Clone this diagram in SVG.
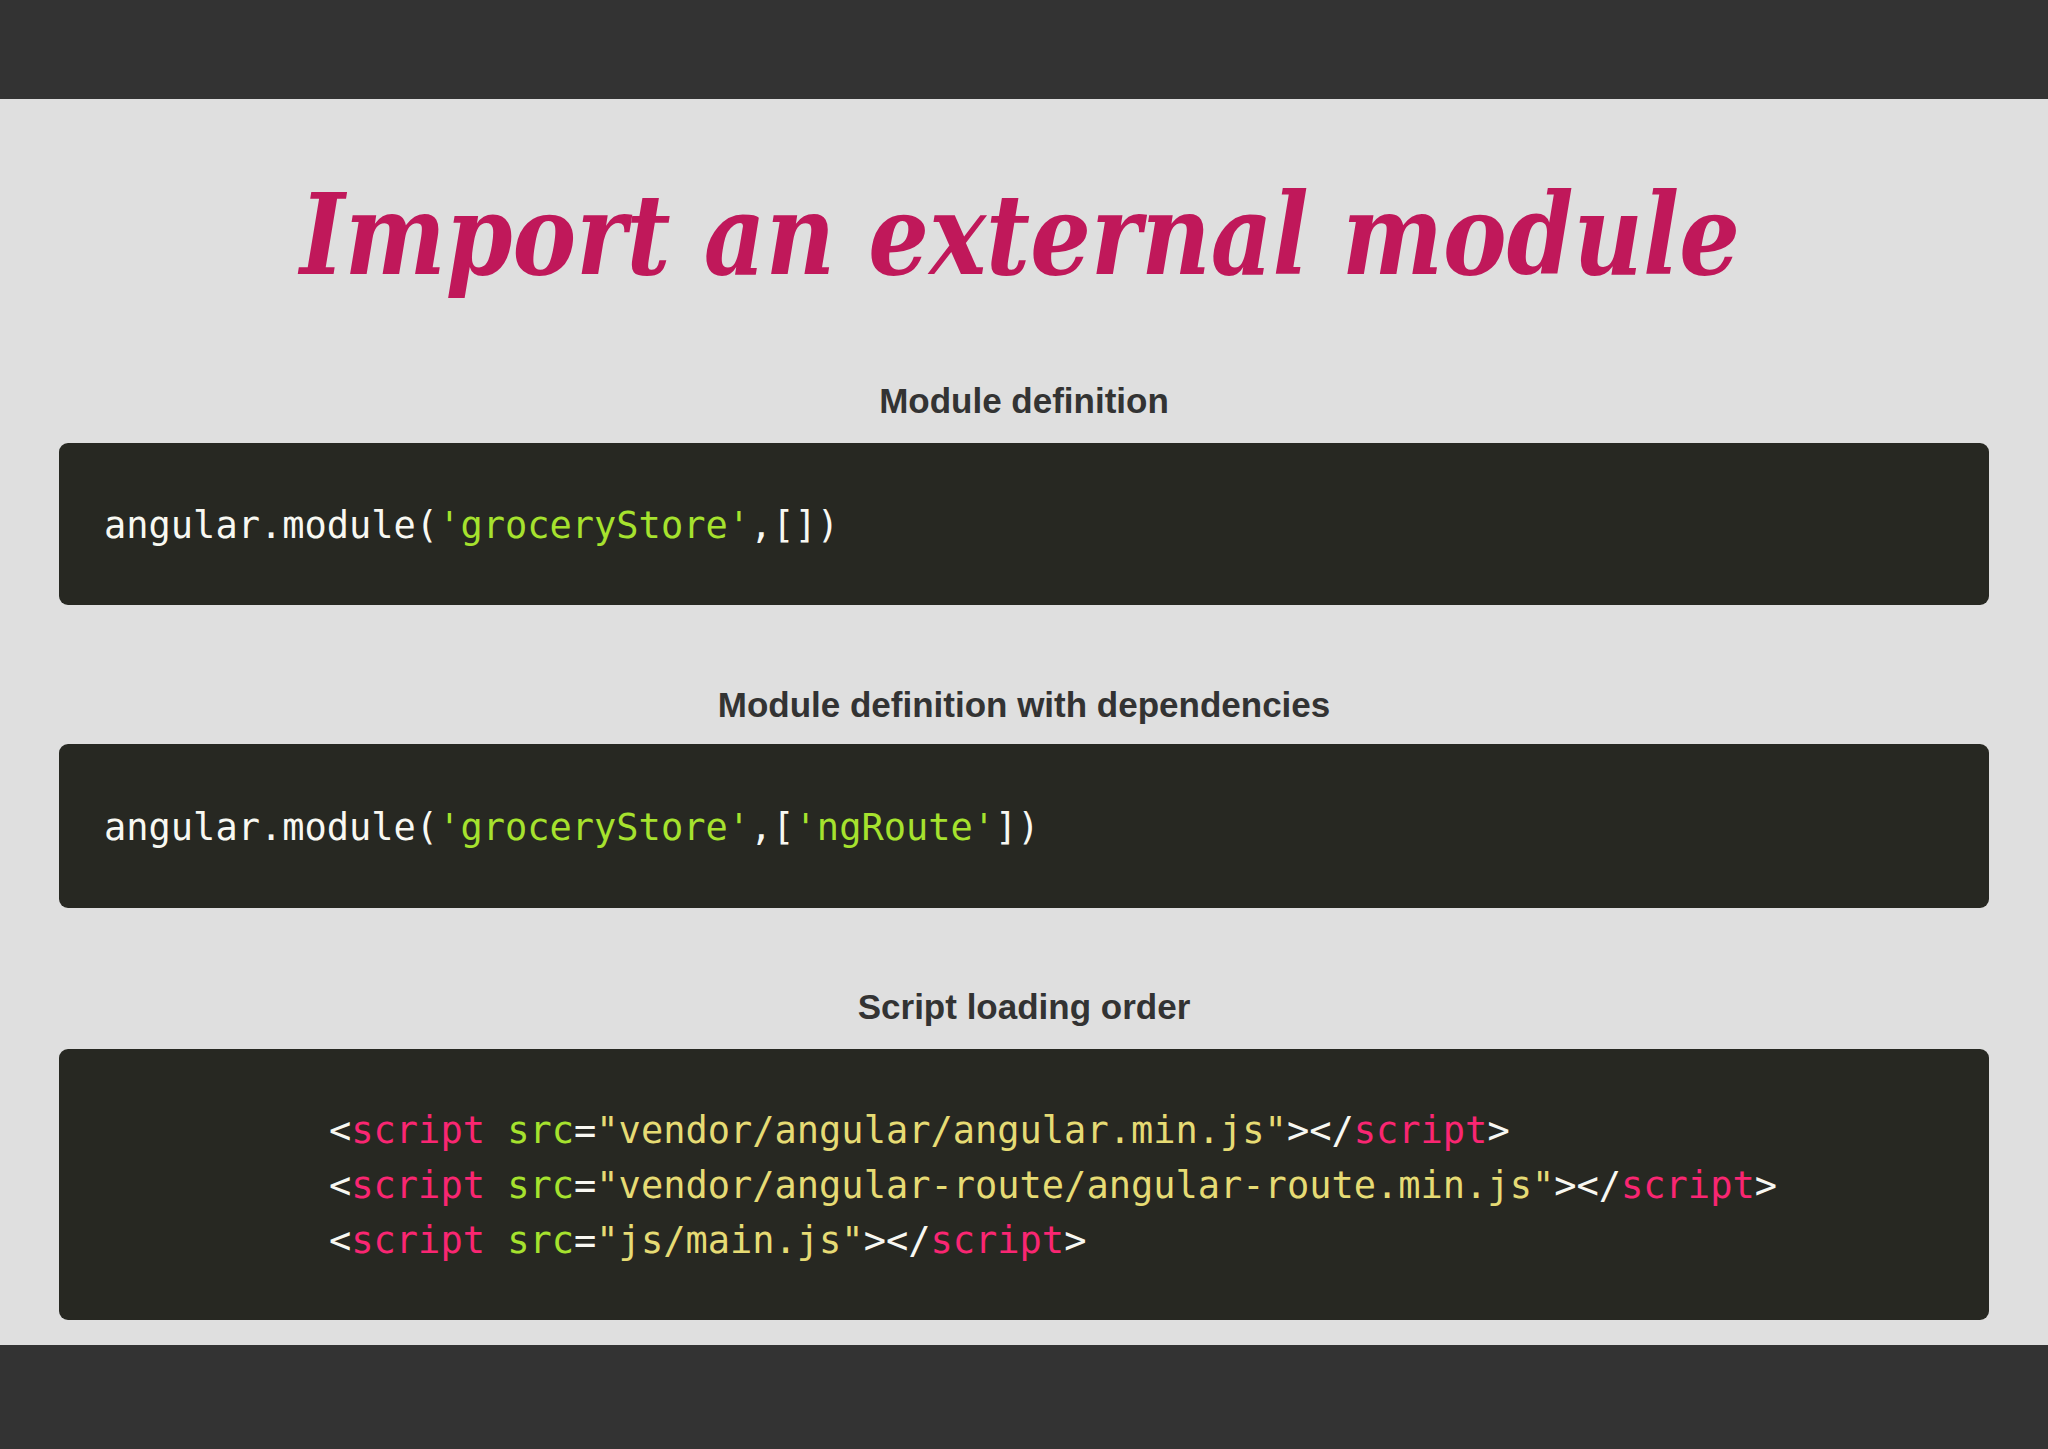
<svg xmlns="http://www.w3.org/2000/svg" width="2048" height="1449" viewBox="0 0 2048 1449">
<style>
.h{font-family:"Liberation Sans",Arial,sans-serif;font-weight:bold;font-size:35px;fill:#333;text-anchor:middle}
.c{font-family:"DejaVu Sans Mono",monospace;font-size:37px;fill:#f8f8f2}
.g{fill:#a6e22e}.p{fill:#f92672}.y{fill:#e6db74}
.box{fill:#272822}
</style>
<rect width="2048" height="1449" fill="#dfdfdf"/>
<rect width="2048" height="99" fill="#333"/>
<rect y="1345" width="2048" height="104" fill="#333"/>
<g id="title"><text x="1020" y="274" text-anchor="middle" font-family="'DejaVu Serif',serif" font-style="italic" font-weight="bold" font-size="112" fill="#c0185a" textLength="1440" lengthAdjust="spacingAndGlyphs">Import an external module</text></g>
<g id="sec1">
<text class="h" x="1024" y="413">Module definition</text>
<rect class="box" x="59" y="443" width="1930" height="162" rx="9"/>
<text class="c" x="104" y="538">angular.module(<tspan class="g">'groceryStore'</tspan>,[])</text>
</g>
<g id="sec2">
<text class="h" x="1024" y="717">Module definition with dependencies</text>
<rect class="box" x="59" y="744" width="1930" height="164" rx="9"/>
<text class="c" x="104" y="840">angular.module(<tspan class="g">'groceryStore'</tspan>,[<tspan class="g">'ngRoute'</tspan>])</text>
</g>
<g id="sec3">
<text class="h" x="1024" y="1019">Script loading order</text>
<rect class="box" x="59" y="1049" width="1930" height="271" rx="9"/>
<text class="c" x="329" y="1143">&lt;<tspan class="p">script</tspan> <tspan class="g">src</tspan>=<tspan class="y">"vendor/angular/angular.min.js"</tspan>&gt;&lt;/<tspan class="p">script</tspan>&gt;</text>
<text class="c" x="329" y="1198">&lt;<tspan class="p">script</tspan> <tspan class="g">src</tspan>=<tspan class="y">"vendor/angular-route/angular-route.min.js"</tspan>&gt;&lt;/<tspan class="p">script</tspan>&gt;</text>
<text class="c" x="329" y="1253">&lt;<tspan class="p">script</tspan> <tspan class="g">src</tspan>=<tspan class="y">"js/main.js"</tspan>&gt;&lt;/<tspan class="p">script</tspan>&gt;</text>
</g>
<g id="connectors"/>
</svg>
